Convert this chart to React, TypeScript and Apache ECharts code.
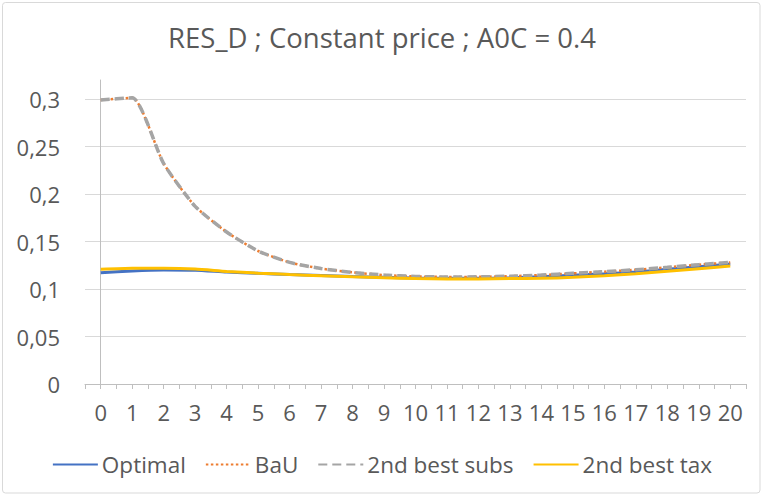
import React, { useEffect, useRef } from "react";
import * as echarts from "echarts";

const titleText = "RES_D ; Constant price ; A0C = 0.4";
const periods = [0, 1, 2, 3, 4, 5, 6, 7, 8, 9, 10, 11, 12, 13, 14, 15, 16, 17, 18, 19, 20];
const seriesNames = ["Optimal", "BaU", "2nd best subs", "2nd best tax"];
const optimal = [0.117, 0.119, 0.12, 0.1197, 0.1178, 0.1165, 0.1152, 0.1142, 0.1132, 0.1123, 0.1116, 0.1112, 0.1112, 0.1118, 0.113, 0.1144, 0.116, 0.118, 0.1207, 0.1235, 0.1263];
const bau = [0.299, 0.3012, 0.232, 0.187, 0.16, 0.14, 0.128, 0.1215, 0.1175, 0.1147, 0.1132, 0.1127, 0.1128, 0.1135, 0.1147, 0.1165, 0.1182, 0.1203, 0.1228, 0.1256, 0.128];
const subs = [0.299, 0.3012, 0.232, 0.187, 0.16, 0.14, 0.128, 0.1215, 0.1175, 0.1147, 0.1132, 0.1127, 0.1128, 0.1135, 0.1147, 0.1165, 0.1182, 0.1203, 0.1228, 0.1256, 0.128];
const tax = [0.1207, 0.1218, 0.1218, 0.121, 0.1185, 0.1167, 0.1152, 0.114, 0.1128, 0.1118, 0.111, 0.1106, 0.1106, 0.111, 0.1112, 0.1123, 0.114, 0.116, 0.1186, 0.1214, 0.1242];
const yTicks = [0, 0.05, 0.1, 0.15, 0.2, 0.25, 0.3];

const FONT = "'Open Sans', sans-serif";
const TXT = "#595959";
const GRID = "#d9d9d9";

export default function App() {
  const ref = useRef<HTMLDivElement>(null);
  useEffect(() => {
    document.body.style.margin = "0";
    const chart = echarts.init(ref.current!, null, { renderer: "svg" });
    const pair = (arr: number[]) => periods.map((p, i) => [p, arr[i]]);
    const splitColors = yTicks.map(() => GRID).concat(["rgba(0,0,0,0)"]);
    chart.setOption({
      animation: false,
      backgroundColor: "#fff",
      textStyle: { fontFamily: FONT },
      title: {
        text: titleText,
        left: "center",
        top: 18,
        textStyle: { fontFamily: FONT, fontSize: 27.5, fontWeight: "normal", color: TXT },
      },
      graphic: [
        {
          type: "rect",
          shape: { x: 2.5, y: 2.5, width: 757.5, height: 490.5, r: 3 },
          style: { fill: "none", stroke: GRID, lineWidth: 1 },
          silent: true,
        },
      ],
      legend: {
        bottom: 15,
        left: "center",
        itemWidth: 45,
        itemHeight: 14,
        itemGap: 19,
        itemStyle: { opacity: 0 },
        textStyle: { fontFamily: FONT, fontSize: 22.5, color: TXT, padding: [0, 0, 0, -1] },
        data: seriesNames,
      },
      grid: { left: 85, right: 18, top: 80, bottom: 112, containLabel: false },
      xAxis: {
        type: "value",
        min: -0.5,
        max: 20.5,
        interval: 0.5,
        axisLine: { show: true, lineStyle: { color: "#bfbfbf", width: 1 } },
        axisTick: { show: true, length: 5, lineStyle: { color: "#bfbfbf" } },
        splitLine: { show: false },
        axisLabel: {
          fontFamily: FONT,
          fontSize: 22,
          color: TXT,
          margin: 17,
          showMinLabel: true,
          showMaxLabel: true,
          hideOverlap: false,
          formatter: (v: number) => (Number.isInteger(v) && periods.includes(v) ? String(v) : ""),
        },
      },
      yAxis: {
        type: "value",
        min: 0,
        max: 0.32,
        interval: 0.05,
        axisLine: { show: true, lineStyle: { color: "#bfbfbf", width: 1 } },
        axisTick: { show: false },
        splitLine: { show: true, lineStyle: { color: splitColors, width: 1 } },
        axisLabel: {
          fontFamily: FONT,
          fontSize: 22,
          color: TXT,
          margin: 25,
          formatter: (v: number) => {
            if (v > 0.305) return "";
            return String(Math.round(v * 100) / 100).replace(".", ",");
          },
        },
      },
      series: [
        {
          name: seriesNames[0],
          type: "line",
          data: pair(optimal),
          smooth: 0.2,
          symbol: "none",
          lineStyle: { color: "#4472C4", width: 3 },
          itemStyle: { color: "#4472C4" },
        },
        {
          name: seriesNames[1],
          type: "line",
          data: pair(bau),
          smooth: 0.2,
          symbol: "none",
          lineStyle: { color: "#ED7D31", width: 2.5, type: [2.5, 2.5] },
          itemStyle: { color: "#ED7D31" },
        },
        {
          name: seriesNames[2],
          type: "line",
          data: pair(subs),
          smooth: 0.2,
          symbol: "none",
          lineStyle: { color: "#A5A5A5", width: 3.5, type: [9, 5] },
          itemStyle: { color: "#A5A5A5" },
        },
        {
          name: seriesNames[3],
          type: "line",
          data: pair(tax),
          smooth: 0.2,
          symbol: "none",
          lineStyle: { color: "#FFC000", width: 3 },
          itemStyle: { color: "#FFC000" },
        },
      ],
    });
    return () => chart.dispose();
  }, []);
  return <div ref={ref} style={{ width: 764, height: 496 }} />;
}
